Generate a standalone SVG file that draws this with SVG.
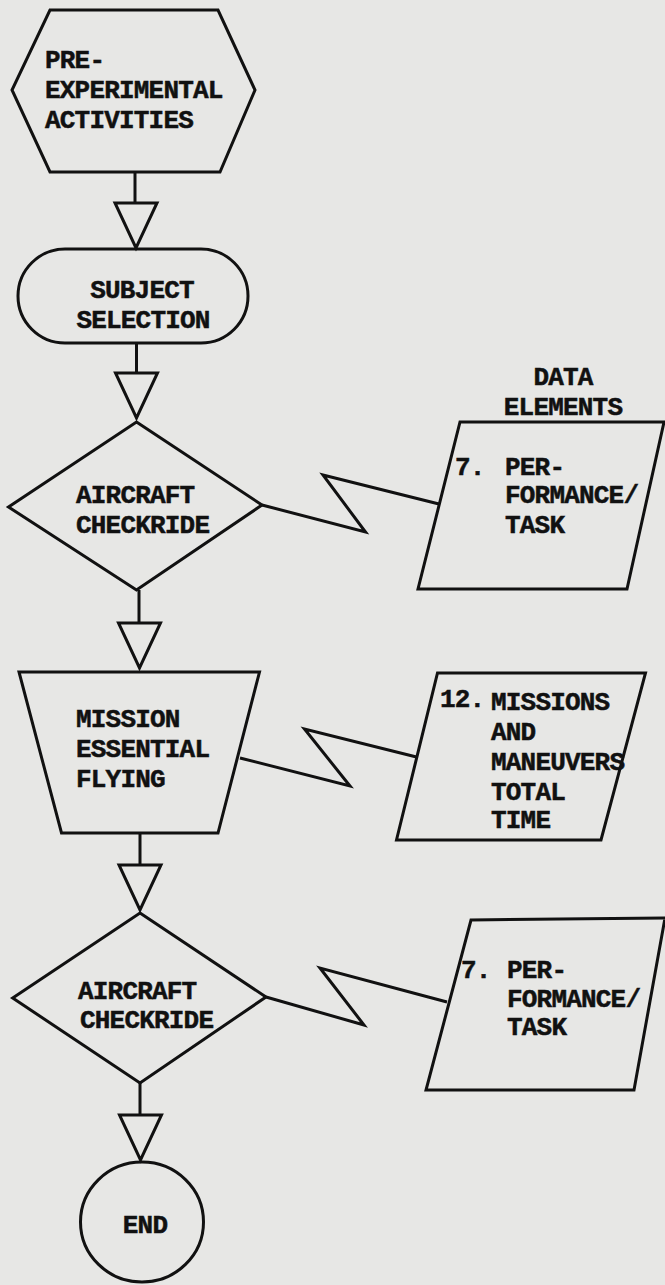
<svg xmlns="http://www.w3.org/2000/svg" width="665" height="1285" viewBox="0 0 665 1285">
<style>
.shape{fill:none;stroke:#111;stroke-width:3;stroke-linejoin:miter}
.conn{fill:none;stroke:#111;stroke-width:3;stroke-linejoin:miter}
.tri{fill:#e7e7e5;stroke:#111;stroke-width:3}
text{font-family:"Liberation Mono","DejaVu Sans Mono",monospace;font-weight:bold;font-size:26px;letter-spacing:-0.8px;fill:#111;stroke:#111;stroke-width:0.5}
.mid{text-anchor:middle}
</style>
<defs>
<path id="tri" d="M-21,0 L21,0 L0,45 Z"/>
</defs>
<rect x="0" y="0" width="665" height="1285" fill="#e7e7e5"/>

<g id="connectors">
<line class="conn" x1="135" y1="172" x2="135" y2="203"/>
<use href="#tri" class="tri" transform="translate(136,203)"/>
<line class="conn" x1="136.5" y1="343" x2="136.5" y2="373"/>
<use href="#tri" class="tri" transform="translate(136.5,373)"/>
<line class="conn" x1="139" y1="590" x2="139" y2="623"/>
<use href="#tri" class="tri" transform="translate(139.5,623)"/>
<line class="conn" x1="140" y1="833" x2="140" y2="865"/>
<use href="#tri" class="tri" transform="translate(140,865)"/>
<line class="conn" x1="140" y1="1083" x2="140" y2="1115"/>
<use href="#tri" class="tri" transform="translate(140.5,1115)"/>
<polyline class="conn" points="262,505 365.5,532 323,475 439,504"/>
<polyline class="conn" points="240,758 350,786 304.5,729 416.5,757"/>
<polyline class="conn" points="266,997 364,1025 320,968 447,1002"/>
</g>

<g id="pre-experimental">
<polygon class="shape" points="50,10 218,10 255,90 220,172 50,172 12,90"/>
<text x="45" y="68">PRE-</text>
<text x="45" y="98">EXPERIMENTAL</text>
<text x="45" y="128">ACTIVITIES</text>
</g>

<g id="subject-selection">
<rect class="shape" x="18" y="249" width="230" height="94" rx="47" ry="47"/>
<text class="mid" x="142" y="298">SUBJECT</text>
<text class="mid" x="143" y="328">SELECTION</text>
</g>

<g id="checkride-1">
<polygon class="shape" points="136.5,422 262,505 136.5,590 8.5,507"/>
<text x="76" y="503">AIRCRAFT</text>
<text x="76" y="533">CHECKRIDE</text>
</g>

<g id="data-elements-title">
<text class="mid" x="563" y="385">DATA</text>
<text class="mid" x="563" y="415">ELEMENTS</text>
</g>

<g id="data-7a">
<polygon class="shape" points="460,422 664,422 627,589 418,589"/>
<text x="455" y="475">7.</text>
<text x="505" y="475">PER-</text>
<text x="505" y="503">FORMANCE/</text>
<text x="505" y="533">TASK</text>
</g>

<g id="mission-flying">
<polygon class="shape" points="19,672 259.5,672 218,833 61.5,833"/>
<text x="76" y="727">MISSION</text>
<text x="76" y="757">ESSENTIAL</text>
<text x="76" y="787">FLYING</text>
</g>

<g id="data-12">
<polygon class="shape" points="437.5,673 645.5,673 601,840 396.5,840"/>
<text x="440" y="707">12.</text>
<text x="491" y="710">MISSIONS</text>
<text x="491" y="740">AND</text>
<text x="491" y="770">MANEUVERS</text>
<text x="491" y="800">TOTAL</text>
<text x="491" y="828">TIME</text>
</g>

<g id="checkride-2">
<polygon class="shape" points="140,913 266,997 140,1083 12.7,998"/>
<text x="78" y="999">AIRCRAFT</text>
<text x="80" y="1028">CHECKRIDE</text>
</g>

<g id="data-7b">
<polygon class="shape" points="471,920 665,918 634,1090 426,1090"/>
<text x="461" y="978">7.</text>
<text x="507" y="978">PER-</text>
<text x="507" y="1007">FORMANCE/</text>
<text x="507" y="1035">TASK</text>
</g>

<g id="end">
<ellipse class="shape" cx="142" cy="1222" rx="61.5" ry="60"/>
<text class="mid" x="145" y="1233">END</text>
</g>
</svg>
